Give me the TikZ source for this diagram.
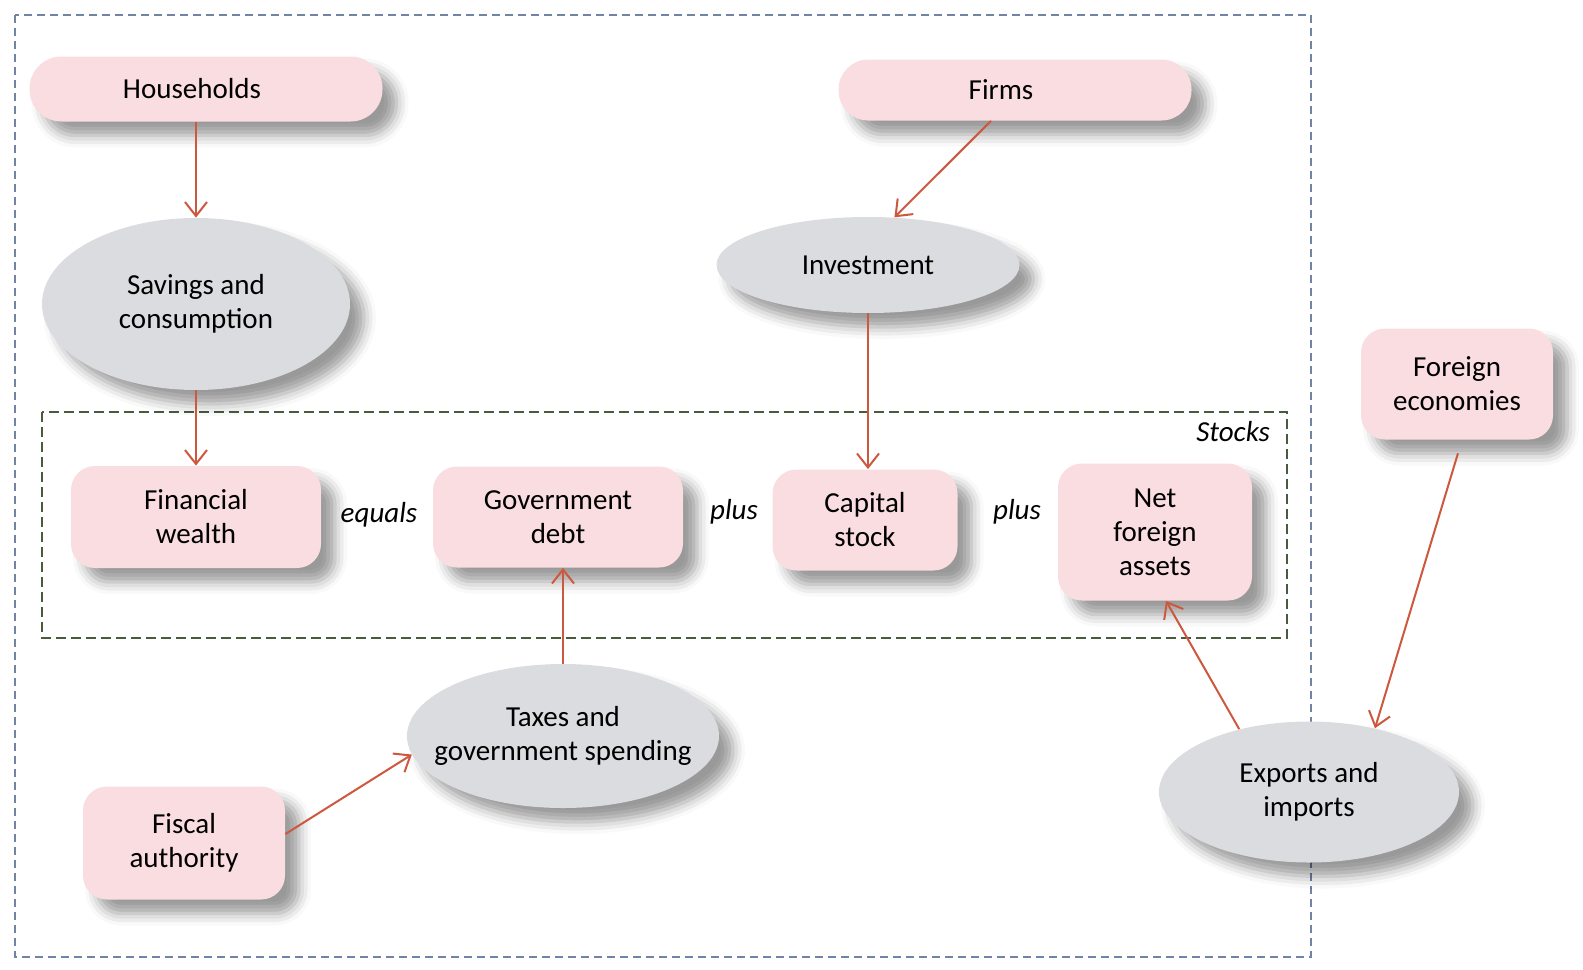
\documentclass[tikz,border=0pt]{standalone}
\usepackage{fontspec}
\setmainfont{Carlito}
\usetikzlibrary{shapes.geometric,shadows.blur,arrows.meta}
\definecolor{pinkfill}{RGB}{249,221,225}
\definecolor{greyfill}{RGB}{219,220,223}
\definecolor{arr}{RGB}{205,88,62}
\definecolor{outerc}{RGB}{112,132,165}
\definecolor{stk}{RGB}{72,92,60}
\begin{document}
\begin{tikzpicture}[x=0.5pt,y=-0.5pt,
  font=\fontsize{14.5}{17}\selectfont,
  shad/.style={blur shadow={shadow xshift=7pt, shadow yshift=-7pt, shadow opacity=40, shadow blur radius=6pt}},
  box/.style={draw=none, fill=pinkfill, rounded corners=12pt, align=center, inner sep=0pt, shad},
  oval/.style={ellipse, draw=none, fill=greyfill, align=center, inner sep=0pt, shad},
  conn/.style={draw=arr, line width=1pt, -{Straight Barb[length=7pt,width=11pt,line width=1pt]}},
  lbl/.style={font=\fontsize{14.5}{17}\selectfont\itshape}
]
\useasboundingbox (0,0) rectangle (1583,969);
\draw[outerc, line width=0.8pt, dash pattern=on 4pt off 2.5pt] (15,15) rectangle (1311,957);
\draw[stk, line width=0.9pt, dash pattern=on 5pt off 2.5pt] (42,412) rectangle (1287,638);
\node[lbl, anchor=east] (stockslbl) at (1277,432) {Stocks};

\node[box, minimum width=176.5pt, minimum height=32.5pt, rounded corners=16pt] (hh) at (206,89) {\hspace*{-14pt}Households};
\node[box, minimum width=176.5pt, minimum height=30.5pt, rounded corners=15pt] (firms) at (1015,90) {\hspace*{-14pt}Firms};
\node[oval, minimum width=154pt, minimum height=86pt] (sav) at (196,304) {Savings and\\consumption};
\node[oval, minimum width=151.5pt, minimum height=48pt] (inv) at (868,265) {Investment};
\node[box, minimum width=125pt, minimum height=51pt] (fw) at (196,517) {Financial\\wealth};
\node[box, minimum width=125pt, minimum height=50.5pt] (gd) at (558,517) {Government\\debt};
\node[box, minimum width=92.5pt, minimum height=50.5pt] (cap) at (865,520) {Capital\\stock};
\node[box, minimum width=97pt, minimum height=68.5pt] (nfa) at (1155,532) {Net\\foreign\\assets};
\node[box, minimum width=96pt, minimum height=55.5pt] (fe) at (1457,384) {Foreign\\economies};
\node[oval, inner xsep=-12pt, minimum width=156pt, minimum height=72pt] (tax) at (563,736) {Taxes and\\government spending};
\node[box, minimum width=101pt, minimum height=56.5pt] (fa) at (184,843) {Fiscal\\authority};
\node[oval, minimum width=150pt, minimum height=70.5pt] (exp) at (1309,792) {Exports and\\imports};

\node[lbl] (eq) at (379,515) {equals};
\node[lbl] (pl1) at (734,512) {plus};
\node[lbl] (pl2) at (1017,512) {plus};

\draw[conn] (hh.south -| sav.north) -- (sav.north);
\draw[conn] (sav.south) -- (fw.north);
\draw[conn] ([xshift=-12pt]firms.south) -- (inv.61);
\draw[conn] (inv.south) -- (inv.south |- cap.north);
\draw[conn] (tax.north) -- (tax.north |- gd.south);
\draw[conn] ([yshift=4.5pt]fa.east) -- (tax.187);
\draw[conn] (exp.138) -- ([xshift=5.5pt]nfa.south);
\draw[conn, shorten <=7pt] ([xshift=2.5pt]fe.south) -- (exp.44.5);
\end{tikzpicture}
\end{document}
